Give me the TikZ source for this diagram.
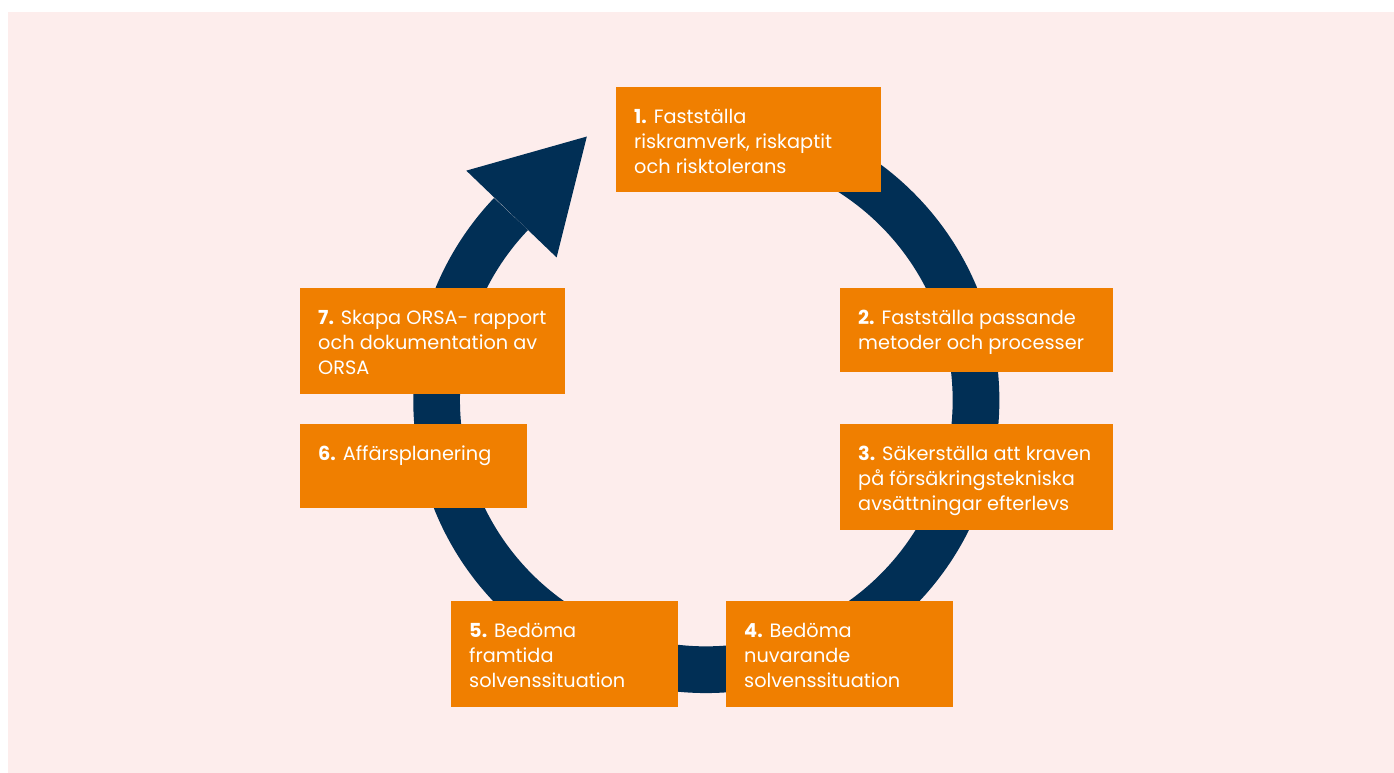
\documentclass[tikz,border=0pt]{standalone}
\usepackage{fontspec}
\setmainfont{Poppins}

\definecolor{bgpink}{HTML}{FDEDEC}
\definecolor{orsaorange}{HTML}{F07F00}
\definecolor{orsanavy}{HTML}{012F55}

\tikzset{
  stepbox/.style={fill=orsaorange, draw=none, inner sep=0pt, anchor=north west},
  steptext/.style={text=white, align=left, anchor=north west, inner sep=0pt,
    font=\fontsize{19.3}{25}\selectfont},
}

\begin{document}
\begin{tikzpicture}[x=1pt,y=1pt]
\useasboundingbox (0,0) rectangle (1394,773);
\fill[bgpink] (8,0) rectangle (1394,761);
\coordinate (M) at (706.3,373);
% ring with arrow head
\draw[orsanavy, line width=46.7pt] ([shift={(95:269.7pt)}]M) arc[start angle=95, end angle=-223.6, radius=269.7pt];
\fill[orsanavy] ([shift={(136.3:332pt)}]M) -- ([shift={(114.4:289.3pt)}]M) -- ([shift={(136.4:206.7pt)}]M) -- cycle;

% steps
\node[stepbox, minimum width=265pt, minimum height=105pt] (b1) at (616,686) {};
\node[steptext] (t1) at ([xshift=18pt,yshift=-22pt]b1.north west) {\textbf{1.} Fastställa\\riskramverk, riskaptit\\och risktolerans};
\node[stepbox, minimum width=273pt, minimum height=84pt] (b2) at (840,485) {};
\node[steptext] (t2) at ([xshift=18pt,yshift=-22pt]b2.north west) {\textbf{2.} Fastställa passande\\metoder och processer};
\node[stepbox, minimum width=273pt, minimum height=106pt] (b3) at (840,349) {};
\node[steptext] (t3) at ([xshift=18pt,yshift=-22pt]b3.north west) {\textbf{3.} Säkerställa att kraven\\på försäkringstekniska\\avsättningar efterlevs};
\node[stepbox, minimum width=227pt, minimum height=106pt] (b4) at (726,172) {};
\node[steptext] (t4) at ([xshift=18pt,yshift=-22pt]b4.north west) {\textbf{4.} Bedöma\\nuvarande\\solvenssituation};
\node[stepbox, minimum width=227pt, minimum height=106pt] (b5) at (451,172) {};
\node[steptext] (t5) at ([xshift=18pt,yshift=-22pt]b5.north west) {\textbf{5.} Bedöma\\framtida\\solvenssituation};
\node[stepbox, minimum width=227pt, minimum height=84pt] (b6) at (300,349) {};
\node[steptext] (t6) at ([xshift=18pt,yshift=-22pt]b6.north west) {\textbf{6.} Affärsplanering};
\node[stepbox, minimum width=265pt, minimum height=106pt] (b7) at (300,485) {};
\node[steptext] (t7) at ([xshift=18pt,yshift=-22pt]b7.north west) {\textbf{7.} Skapa ORSA- rapport\\och dokumentation av\\ORSA};
\end{tikzpicture}
\end{document}
